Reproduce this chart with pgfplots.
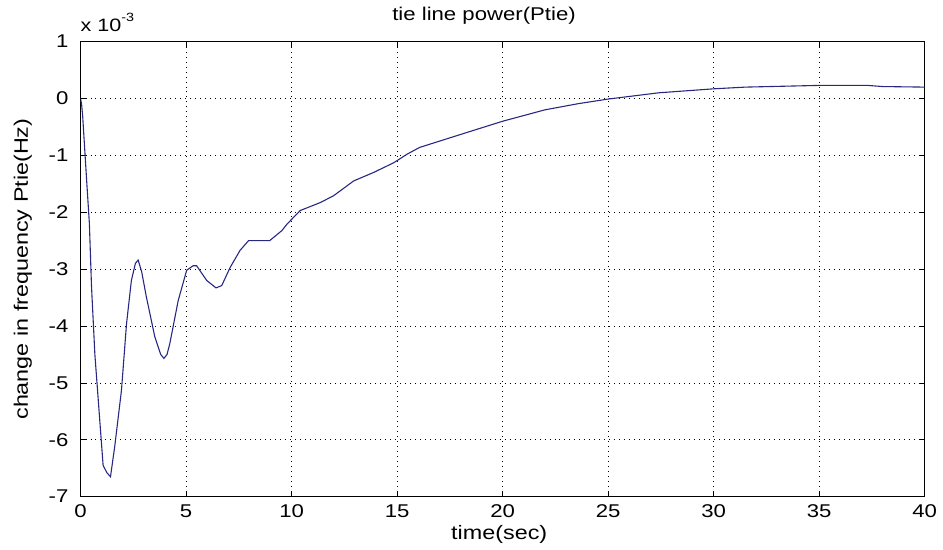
\documentclass[border=0pt]{standalone}
\usepackage{pgfplots}
\pgfplotsset{compat=1.18}
\usepackage{fontspec}
\setmainfont{Liberation Sans}[FakeStretch=1.2]
\definecolor{lineblue}{RGB}{40,40,130}
\begin{document}
\fontsize{18}{21}\selectfont
\begin{tikzpicture}
\begin{axis}[
  name=ax,
  scale only axis,
  width=846pt, height=456pt,
  xmin=0, xmax=40, ymin=-7, ymax=1,
  xtick={0,5,...,40}, ytick={-7,-6,...,1},
  tick align=inside,
  major tick length=6pt,
  tick style={black, line width=0.7pt},
  axis line style={black, line width=0.8pt},
  grid=major,
  major grid style={black, line width=0.7pt, dash pattern=on 1pt off 4pt},
  /pgf/number format/assume math mode=true,
  ticklabel style={font=\fontsize{18.5}{21}\selectfont},
  xticklabel style={yshift=-2pt},
  yticklabel style={xshift=-6pt},
  title={tie line power(Ptie)},
  title style={at={(axis description cs:0.478,1.0329)}, anchor=base, font=\fontsize{18.5}{21}\selectfont},
  xlabel={time(sec)},
  xlabel style={at={(axis description cs:0.496,-0.0943)}, anchor=base, font=\fontsize{19.5}{22}\selectfont},
  ylabel={change in frequency Ptie(Hz)},
  ylabel style={at={(axis description cs:-0.0623,0.5)}, anchor=base, font=\fontsize{19.5}{22}\selectfont},
  clip mode=individual,
]
\addplot[lineblue, line width=1.1pt] coordinates {
(0,0) (0.05,-0.1) (0.1,-0.3) (0.2,-0.9) (0.3,-1.5) (0.42,-2.2) (0.52,-3.3)
(0.68,-4.5) (0.9,-5.6) (1.07,-6.45) (1.25,-6.58) (1.42,-6.65) (1.62,-6.12)
(1.94,-5.13) (2.18,-3.96) (2.41,-3.2) (2.6,-2.9) (2.73,-2.84) (2.9,-3.05)
(3.12,-3.49) (3.52,-4.19) (3.8,-4.5) (3.95,-4.57) (4.1,-4.5) (4.23,-4.31)
(4.63,-3.55) (5.03,-3.02) (5.34,-2.94) (5.5,-2.94) (5.98,-3.2) (6.42,-3.33)
(6.69,-3.29) (7.09,-2.97) (7.56,-2.67) (7.96,-2.5) (8.96,-2.5) (9.55,-2.32)
(9.78,-2.21) (10.41,-1.97) (11.36,-1.83) (11.99,-1.71) (12.94,-1.45)
(13.89,-1.30) (14.84,-1.13) (15.47,-0.98) (16.07,-0.86) (18.2,-0.61)
(20,-0.40) (22,-0.20) (23.6,-0.09) (25,-0.01) (27.4,0.10) (30,0.17)
(31.5,0.20) (35,0.23) (37.3,0.23) (38,0.21) (40,0.20)
};
\end{axis}
\node[anchor=base west, inner sep=0pt, font=\fontsize{18}{21}\selectfont] at ([yshift=10pt]ax.north west) {x 10\raisebox{1.1ex}{\fontsize{12}{12}\selectfont -3}};
\path[use as bounding box] (-80.7pt,-49.3pt) rectangle (862.3pt,497.7pt);
\end{tikzpicture}
\end{document}
